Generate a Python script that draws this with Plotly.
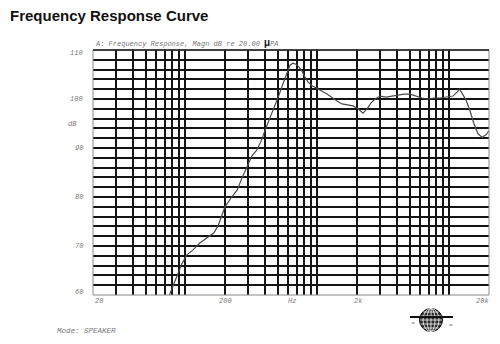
import math
import plotly.graph_objects as go

# ---- data ----
freq_hz = [76, 85, 94, 103, 114.5, 129, 149, 165, 177, 200, 222, 247, 269, 294, 320,
           349, 375, 409, 446, 478, 513, 550, 590, 621, 655, 690, 728, 766, 807, 851,
           913, 996, 1087, 1186, 1294, 1410, 1539, 1710, 1866, 2036, 2220, 2382, 2555,
           2738, 2987, 3318, 3683, 4090, 4544, 5045, 5600, 6215, 6902, 7660, 8508, 9616,
           10670, 11450, 11960, 12490, 13390, 14360, 15400, 16510, 17700, 18970, 20000]
level_db = [60.0, 63.5, 66.3, 68.2, 69.2, 70.6, 71.8, 72.7, 74.1, 78.0, 79.8, 81.4, 83.9,
            86.3, 88.4, 89.6, 91.4, 94.1, 96.7, 98.4, 100.8, 103.1, 105.3, 106.9, 107.3,
            107.1, 106.5, 105.7, 104.5, 103.5, 102.7, 102.2, 101.6, 101.0, 100.2, 99.6,
            99.0, 98.8, 98.6, 98.0, 97.1, 98.0, 99.2, 100.0, 100.6, 100.4, 100.6, 100.8,
            101.0, 101.0, 100.6, 100.2, 100.0, 100.2, 100.2, 100.4, 100.6, 101.4, 102.0,
            101.2, 99.8, 97.6, 94.9, 92.9, 92.2, 92.7, 93.5]

grid_freqs = [20, 30, 40, 50, 60, 70, 80, 90, 100,
              200, 300, 400, 500, 600, 700, 800, 900, 1000,
              2000, 3000, 4000, 5000, 6000, 7000, 8000, 9000, 10000, 20000]
grid_db = list(range(60, 111, 2))

y_tick_vals = [110, 100, 90, 80, 70, 60]
y_tick_text = ["110", "100", "90", "80", "70", "60"]
x_tick_vals = [20, 200, 632, 2000, 20000]
x_tick_text = ["20", "200", "Hz", "2k", "20k"]

title_text = "Frequency Response Curve"
header_text = "A: Frequency Response, Magn dB re 20.00 "
mode_text = "Mode: SPEAKER"

W, H = 500, 344
L, R, T, B = 93, 11, 50, 49
PW, PH = W - L - R, H - T - B

def px_x(p):
    return (p - L) / PW

def px_y(p):
    return (H - B - p) / PH

label_font = dict(family="Liberation Mono, DejaVu Sans Mono, monospace", size=7, color="#7a7a7a")
grid_col = "#141414"

fig = go.Figure()
fig.add_trace(go.Scatter(x=freq_hz, y=level_db, mode="lines",
                         line=dict(color="#4a4a4a", width=1.2), hoverinfo="skip",
                         showlegend=False))

fig.update_layout(
    width=W, height=H,
    margin=dict(l=L, r=R, t=T, b=B),
    paper_bgcolor="white", plot_bgcolor="white",
    showlegend=False,
    xaxis=dict(type="log", range=[math.log10(20), math.log10(20000)],
               tickvals=grid_freqs, showticklabels=False, ticks="",
               showgrid=True, gridcolor=grid_col, gridwidth=1.7,
               zeroline=False, showline=False, fixedrange=True),
    yaxis=dict(range=[60, 110], tickvals=grid_db, showticklabels=False, ticks="",
               showgrid=True, gridcolor=grid_col, gridwidth=1.5,
               zeroline=False, showline=False, fixedrange=True),
)

shapes = []
# frame
shapes.append(dict(type="rect", xref="paper", yref="paper", x0=0, x1=1, y0=0, y1=1,
                   line=dict(color="#8a8a8a", width=1)))
shapes.append(dict(type="line", xref="paper", yref="paper", x0=0, x1=1, y0=1, y1=1,
                   line=dict(color=grid_col, width=1.6)))

# logo (globe)
cx, cy = px_x(431), px_y(320)
r = 11.5
def pshape(kind, x0, x1, y0, y1, **kw):
    d = dict(type=kind, xref="paper", yref="paper", xsizemode="pixel", ysizemode="pixel",
             xanchor=cx, yanchor=cy, x0=x0, x1=x1, y0=y0, y1=y1)
    d.update(kw)
    return d
shapes.append(pshape("circle", -r, r, -r, r, fillcolor="#2a2a2a", line=dict(color="#111", width=1)))
for hw in (4, 8):
    shapes.append(pshape("circle", -hw, hw, -r, r, line=dict(color="white", width=0.8)))
for dy in (-8, -4, 0, 4, 8):
    hl = math.sqrt(r * r - dy * dy) - 0.5
    shapes.append(pshape("line", -hl, hl, dy, dy, line=dict(color="white", width=0.8)))
shapes.append(pshape("line", -0.2, 0.2, -r, r, line=dict(color="white", width=0.8)))
shapes.append(pshape("line", -21, 22, 3, 3, line=dict(color="#111", width=2)))
fig.update_layout(shapes=shapes)

ann = []
ann.append(dict(text="<b>" + title_text + "</b>", xref="paper", yref="paper",
                x=px_x(8), y=px_y(16), xanchor="left", yanchor="middle", showarrow=False,
                font=dict(family="Liberation Sans, Arial", size=15, color="#111")))
ann.append(dict(text="<i>" + header_text + "</i><span style='font-size:10px;color:#111'><b>\u03bc</b></span><i>PA</i>",
                xref="paper", yref="paper", x=px_x(93), y=px_y(44), xanchor="left", yanchor="middle",
                showarrow=False, font=label_font))
for v, t in zip(y_tick_vals, y_tick_text):
    ann.append(dict(text="<i>" + t + "</i>", xref="paper", yref="y", x=px_x(85), y=v,
                    xanchor="right", yanchor="middle", showarrow=False, font=label_font,
                    yshift=(-3 if v == 110 else (3 if v == 60 else 0))))
ann.append(dict(text="<i>dB</i>", xref="paper", yref="y", x=px_x(72), y=95,
                xanchor="center", yanchor="middle", showarrow=False, font=label_font))
x_label_px = [99, 225, 292, 358, 482]
for p, t in zip(x_label_px, x_tick_text):
    ann.append(dict(text="<i>" + t + "</i>", xref="paper", yref="paper", x=px_x(p), y=px_y(301),
                    xanchor="center", yanchor="middle", showarrow=False, font=label_font))
ann.append(dict(text="<i>" + mode_text + "</i>", xref="paper", yref="paper", x=px_x(55), y=px_y(331),
                xanchor="left", yanchor="middle", showarrow=False,
                font=dict(family="Liberation Mono, monospace", size=7.5, color="#7a7a7a")))
ann.append(dict(text="n", xref="paper", yref="paper", x=px_x(413), y=px_y(322), xanchor="center",
                yanchor="middle", showarrow=False, font=dict(family="Liberation Serif", size=5, color="#333")))
ann.append(dict(text="w", xref="paper", yref="paper", x=px_x(451), y=px_y(324), xanchor="center",
                yanchor="middle", showarrow=False, font=dict(family="Liberation Serif", size=5, color="#333")))
fig.update_layout(annotations=ann)

fig.write_html("out.html")
